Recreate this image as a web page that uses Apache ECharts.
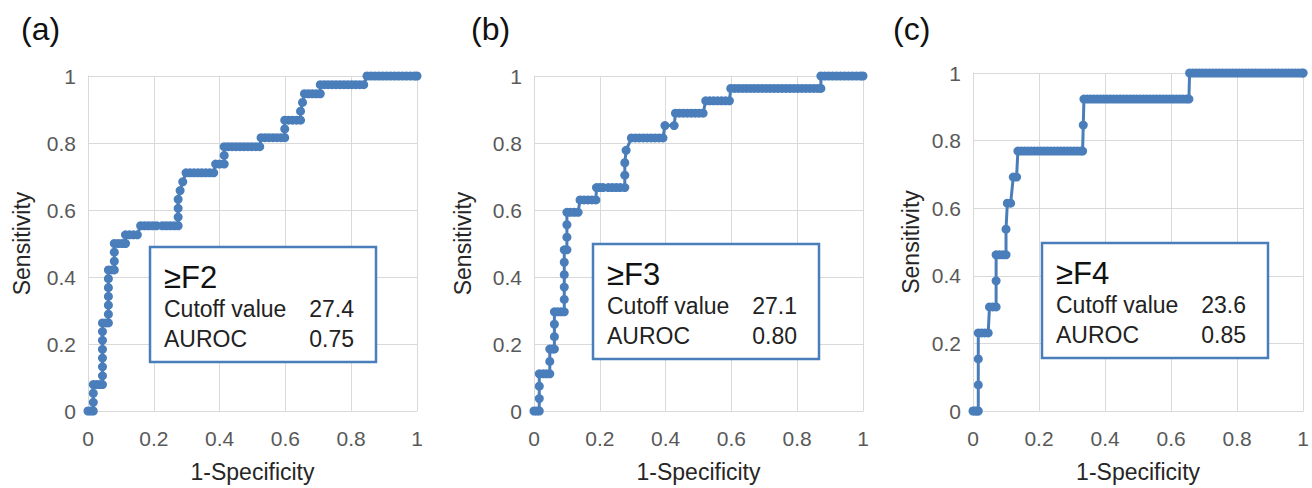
<!DOCTYPE html>
<html>
<head>
<meta charset="utf-8">
<title>ROC curves</title>
<script src="https://cdn.jsdelivr.net/npm/echarts@6/dist/echarts.min.js"></script>
<style>
  html, body { margin: 0; padding: 0; background: #fff; }
  #chart { width: 1312px; height: 488px; }
</style>
</head>
<body>
<div id="chart"></div>
<script>
// panel labels and box texts
const panelTitles = ['(a)', '(b)', '(c)'];
const stageLabels = ['≥F2', '≥F3', '≥F4'];
const cutoffValues = ['27.4', '27.1', '23.6'];
const aurocValues = ['0.75', '0.80', '0.85'];

// [1-specificity, sensitivity]
const rocF2 = [
  [0, 0], [0.008, 0], [0.016, 0],
  [0.016, 0.026], [0.016, 0.053], [0.016, 0.079],
  [0.026, 0.079], [0.036, 0.079], [0.044, 0.079],
  [0.044, 0.105], [0.044, 0.132], [0.044, 0.158], [0.044, 0.184], [0.044, 0.211], [0.044, 0.237], [0.044, 0.263],
  [0.054, 0.263], [0.062, 0.263],
  [0.062, 0.289], [0.062, 0.316], [0.062, 0.342], [0.062, 0.368], [0.062, 0.395], [0.062, 0.421],
  [0.072, 0.421], [0.08, 0.421],
  [0.08, 0.447], [0.08, 0.474], [0.08, 0.5],
  [0.092, 0.5], [0.104, 0.5], [0.114, 0.5],
  [0.114, 0.526], [0.126, 0.526], [0.138, 0.526], [0.15, 0.526],
  [0.16, 0.553], [0.172, 0.553], [0.184, 0.553], [0.196, 0.553], [0.208, 0.553],
  [0.226, 0.553], [0.238, 0.553], [0.25, 0.553], [0.262, 0.553], [0.274, 0.553],
  [0.274, 0.579], [0.274, 0.605], [0.274, 0.632], [0.28, 0.658], [0.288, 0.684],
  [0.298, 0.711], [0.31, 0.711], [0.322, 0.711], [0.334, 0.711], [0.346, 0.711], [0.358, 0.711], [0.37, 0.711], [0.382, 0.711],
  [0.388, 0.737], [0.4, 0.737], [0.414, 0.737],
  [0.414, 0.763], [0.414, 0.789],
  [0.426, 0.789], [0.438, 0.789], [0.45, 0.789], [0.462, 0.789], [0.474, 0.789], [0.486, 0.789], [0.498, 0.789], [0.51, 0.789], [0.522, 0.789],
  [0.526, 0.816], [0.538, 0.816], [0.55, 0.816], [0.562, 0.816], [0.574, 0.816], [0.586, 0.816], [0.598, 0.816],
  [0.598, 0.842], [0.598, 0.868],
  [0.61, 0.868], [0.622, 0.868], [0.634, 0.868], [0.646, 0.868],
  [0.646, 0.895], [0.652, 0.921], [0.658, 0.947],
  [0.67, 0.947], [0.682, 0.947], [0.694, 0.947], [0.706, 0.947],
  [0.706, 0.974], [0.718, 0.974], [0.73, 0.974], [0.742, 0.974], [0.754, 0.974], [0.766, 0.974], [0.778, 0.974],
  [0.79, 0.974], [0.802, 0.974], [0.814, 0.974], [0.826, 0.974], [0.838, 0.974],
  [0.848, 1], [0.86, 1], [0.872, 1], [0.884, 1], [0.896, 1], [0.908, 1], [0.92, 1], [0.932, 1],
  [0.944, 1], [0.956, 1], [0.968, 1], [0.98, 1], [0.992, 1], [1, 1]
];

const rocF3 = [
  [0, 0], [0.008, 0], [0.016, 0],
  [0.016, 0.037], [0.016, 0.074], [0.016, 0.111],
  [0.028, 0.111], [0.038, 0.111], [0.048, 0.111],
  [0.048, 0.148], [0.048, 0.185], [0.056, 0.185], [0.062, 0.185],
  [0.062, 0.222], [0.062, 0.259], [0.062, 0.296],
  [0.072, 0.296], [0.082, 0.296], [0.092, 0.296],
  [0.092, 0.333], [0.092, 0.37], [0.092, 0.407], [0.092, 0.444], [0.092, 0.481],
  [0.1, 0.481], [0.1, 0.519], [0.1, 0.556], [0.1, 0.593],
  [0.11, 0.593], [0.122, 0.593], [0.134, 0.593],
  [0.14, 0.63], [0.152, 0.63], [0.164, 0.63], [0.176, 0.63], [0.188, 0.63],
  [0.19, 0.667], [0.2, 0.667], [0.21, 0.667], [0.226, 0.667], [0.238, 0.667], [0.25, 0.667], [0.262, 0.667], [0.276, 0.667],
  [0.276, 0.704], [0.276, 0.741], [0.28, 0.778],
  [0.296, 0.815], [0.308, 0.815], [0.32, 0.815], [0.332, 0.815], [0.344, 0.815], [0.356, 0.815], [0.368, 0.815], [0.38, 0.815], [0.392, 0.815],
  [0.398, 0.852], [0.426, 0.852],
  [0.43, 0.889], [0.442, 0.889], [0.454, 0.889], [0.466, 0.889], [0.478, 0.889], [0.49, 0.889], [0.502, 0.889], [0.514, 0.889],
  [0.522, 0.926], [0.534, 0.926], [0.546, 0.926], [0.558, 0.926], [0.57, 0.926], [0.582, 0.926], [0.594, 0.926],
  [0.598, 0.963], [0.61, 0.963], [0.622, 0.963], [0.634, 0.963], [0.646, 0.963], [0.658, 0.963], [0.67, 0.963],
  [0.682, 0.963], [0.694, 0.963], [0.706, 0.963], [0.718, 0.963], [0.73, 0.963], [0.742, 0.963], [0.754, 0.963],
  [0.766, 0.963], [0.778, 0.963], [0.79, 0.963], [0.802, 0.963], [0.814, 0.963], [0.826, 0.963], [0.838, 0.963],
  [0.85, 0.963], [0.862, 0.963], [0.872, 0.963],
  [0.872, 1], [0.884, 1], [0.896, 1], [0.908, 1], [0.92, 1], [0.932, 1], [0.944, 1], [0.956, 1],
  [0.968, 1], [0.98, 1], [0.992, 1], [1, 1]
];

const rocF4 = [
  [0, 0], [0.006, 0], [0.012, 0], [0.016, 0],
  [0.016, 0.077], [0.016, 0.154], [0.016, 0.231],
  [0.026, 0.231], [0.036, 0.231], [0.046, 0.231],
  [0.05, 0.308], [0.06, 0.308], [0.07, 0.308],
  [0.07, 0.385], [0.07, 0.462],
  [0.08, 0.462], [0.09, 0.462], [0.1, 0.462],
  [0.1, 0.538], [0.104, 0.615], [0.114, 0.615],
  [0.122, 0.692], [0.132, 0.692],
  [0.136, 0.769], [0.146, 0.769], [0.156, 0.769], [0.166, 0.769], [0.176, 0.769], [0.186, 0.769], [0.196, 0.769],
  [0.206, 0.769], [0.216, 0.769], [0.226, 0.769], [0.236, 0.769], [0.246, 0.769], [0.256, 0.769], [0.266, 0.769],
  [0.276, 0.769], [0.286, 0.769], [0.296, 0.769], [0.306, 0.769], [0.316, 0.769], [0.326, 0.769], [0.332, 0.769],
  [0.334, 0.846], [0.336, 0.923],
  [0.346, 0.923], [0.356, 0.923], [0.366, 0.923], [0.376, 0.923], [0.386, 0.923], [0.396, 0.923], [0.406, 0.923],
  [0.416, 0.923], [0.426, 0.923], [0.436, 0.923], [0.446, 0.923], [0.456, 0.923], [0.466, 0.923], [0.476, 0.923],
  [0.486, 0.923], [0.496, 0.923], [0.506, 0.923], [0.516, 0.923], [0.526, 0.923], [0.536, 0.923], [0.546, 0.923],
  [0.556, 0.923], [0.566, 0.923], [0.576, 0.923], [0.586, 0.923], [0.596, 0.923], [0.606, 0.923], [0.616, 0.923],
  [0.626, 0.923], [0.636, 0.923], [0.646, 0.923], [0.654, 0.923],
  [0.656, 1], [0.666, 1], [0.676, 1], [0.686, 1], [0.696, 1], [0.706, 1], [0.716, 1], [0.726, 1], [0.736, 1],
  [0.746, 1], [0.756, 1], [0.766, 1], [0.776, 1], [0.786, 1], [0.796, 1], [0.806, 1], [0.816, 1], [0.826, 1],
  [0.836, 1], [0.846, 1], [0.856, 1], [0.866, 1], [0.876, 1], [0.886, 1], [0.896, 1], [0.906, 1], [0.916, 1],
  [0.926, 1], [0.936, 1], [0.946, 1], [0.956, 1], [0.966, 1], [0.976, 1], [0.986, 1], [0.996, 1], [1, 1]
];

const curves = [rocF2, rocF3, rocF4];

// layout of the three panels (pixels)
const panels = [
  { left: 88, top: 76, width: 329, height: 339, nameGap: 55, titleX: 16, box: [150, 247] },
  { left: 534, top: 76, width: 329, height: 339, nameGap: 60, titleX: 466, box: [593, 244] },
  { left: 973, top: 73, width: 331, height: 340, nameGap: 51, titleX: 888, box: [1042, 243] }
];

const blue = '#4a7ebb';
const gridGrey = '#d9d9d9';
const font = 'Liberation Sans, Arial, sans-serif';

const myChart = echarts.init(document.getElementById('chart'), null, { renderer: 'svg' });

const grids = [], xAxes = [], yAxes = [], series = [], titles = [], graphics = [];

panels.forEach(function (p, i) {
  grids.push({ left: p.left, top: p.top, width: p.width, height: p.height });
  xAxes.push({
    type: 'value', gridIndex: i, min: 0, max: 1, interval: 0.2,
    name: '1-Specificity', nameLocation: 'middle', nameGap: 49,
    nameTextStyle: { fontFamily: font, fontSize: 23, color: '#262626' },
    axisLine: { show: true, lineStyle: { color: gridGrey, width: 1 } },
    axisTick: { show: false },
    axisLabel: { fontFamily: font, fontSize: 21, color: '#595959', margin: 17 },
    splitLine: { show: true, lineStyle: { color: gridGrey, width: 1 } }
  });
  yAxes.push({
    type: 'value', gridIndex: i, min: 0, max: 1, interval: 0.2,
    name: 'Sensitivity', nameLocation: 'middle', nameGap: p.nameGap,
    nameTextStyle: { fontFamily: font, fontSize: 23, color: '#262626' },
    axisLine: { show: true, lineStyle: { color: gridGrey, width: 1 } },
    axisTick: { show: false },
    axisLabel: { fontFamily: font, fontSize: 21, color: '#595959', margin: 12 },
    splitLine: { show: true, lineStyle: { color: gridGrey, width: 1 } }
  });
  series.push({
    type: 'line', xAxisIndex: i, yAxisIndex: i,
    data: curves[i],
    symbol: 'circle', symbolSize: 9, showAllSymbol: true,
    clip: false,
    lineStyle: { color: blue, width: 3 },
    itemStyle: { color: blue },
    z: 3
  });
  titles.push({
    text: panelTitles[i], left: p.titleX, top: 8,
    textStyle: { fontFamily: font, fontSize: 32, fontWeight: 'normal', color: '#111' }
  });

  const bx = p.box[0], by = p.box[1];
  graphics.push({
    type: 'rect', z: 100,
    shape: { x: bx, y: by, width: 226, height: 115 },
    style: { fill: '#fff', stroke: blue, lineWidth: 2.5 }
  });
  graphics.push({
    type: 'text', z: 101, x: bx + 14, y: by + 30,
    style: { text: stageLabels[i], font: '31px ' + font, fill: '#111', verticalAlign: 'middle' }
  });
  graphics.push({
    type: 'text', z: 101, x: bx + 14, y: by + 62,
    style: { text: 'Cutoff value', font: '23px ' + font, fill: '#222', verticalAlign: 'middle' }
  });
  graphics.push({
    type: 'text', z: 101, x: bx + 204, y: by + 62,
    style: { text: cutoffValues[i], font: '23px ' + font, fill: '#222', align: 'right', verticalAlign: 'middle' }
  });
  graphics.push({
    type: 'text', z: 101, x: bx + 14, y: by + 92,
    style: { text: 'AUROC', font: '23px ' + font, fill: '#222', verticalAlign: 'middle' }
  });
  graphics.push({
    type: 'text', z: 101, x: bx + 204, y: by + 92,
    style: { text: aurocValues[i], font: '23px ' + font, fill: '#222', align: 'right', verticalAlign: 'middle' }
  });
});

const option = {
  animation: false,
  backgroundColor: '#fff',
  title: titles,
  grid: grids,
  xAxis: xAxes,
  yAxis: yAxes,
  series: series,
  graphic: graphics
};
myChart.setOption(option);
</script>
</body>
</html>
